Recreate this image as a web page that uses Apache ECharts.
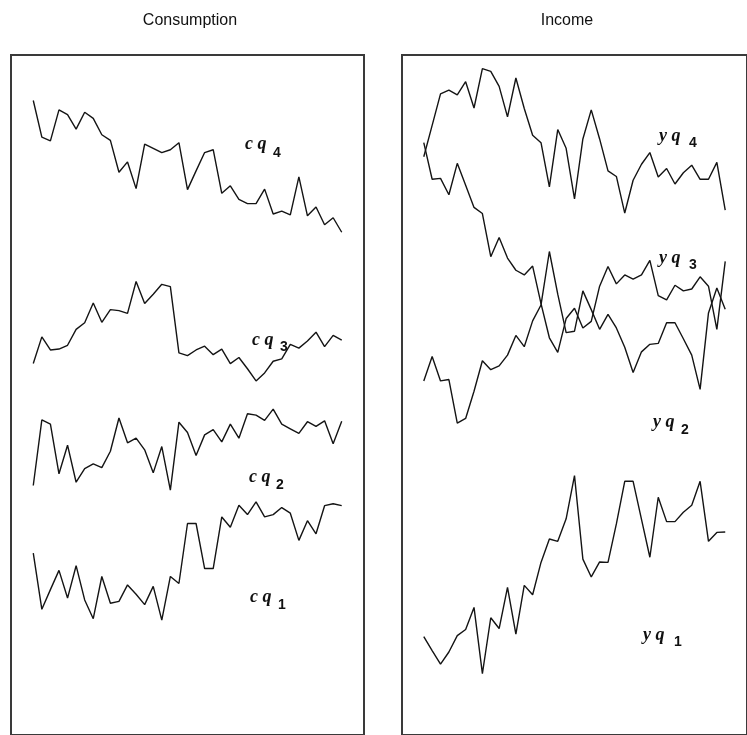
<!DOCTYPE html>
<html>
<head>
<meta charset="utf-8">
<script src="https://cdn.jsdelivr.net/npm/echarts@6/dist/echarts.min.js"></script>
<style>
  html, body { margin: 0; padding: 0; background: #ffffff; }
  #chart { width: 747px; height: 735px; }
</style>
</head>
<body>
<div id="chart"></div>
<script>
// Quarter index shared by every series
const quarters = [1, 2, 3, 4, 5, 6, 7, 8, 9, 10, 11, 12, 13, 14, 15, 16, 17, 18, 19,
  20, 21, 22, 23, 24, 25, 26, 27, 28, 29, 30, 31, 32, 33, 34, 35, 36, 37];

// Consumption, one series per quarter (vertically offset for display)
const cq4 = [135.3, 127.5, 126.7, 133.3, 132.3, 129.2, 132.8, 131.5, 128.0, 126.8, 120.0, 122.2, 116.5,
  126.0, 125.1, 124.2, 124.8, 126.3, 116.3, 120.3, 124.2, 124.8, 115.5, 117.1, 114.2, 113.3, 113.3,
  116.4, 111.1, 111.7, 110.9, 119.0, 110.7, 112.6, 108.8, 110.3, 107.2];
const cq3 = [79.2, 84.9, 82.1, 82.3, 83.1, 86.5, 87.9, 92.1, 88.0, 90.7, 90.5, 89.9, 96.7,
  92.0, 94.0, 96.1, 95.6, 81.5, 80.9, 82.1, 82.9, 81.1, 82.3, 79.2, 80.5, 78.1, 75.5,
  77.2, 79.7, 80.2, 83.3, 82.5, 84.0, 85.9, 82.8, 85.2, 84.2];
const cq2 = [53.2, 67.2, 66.3, 55.7, 61.8, 53.9, 56.8, 57.8, 57.0, 60.5, 67.6, 62.3, 63.3,
  60.8, 55.9, 61.5, 52.2, 66.7, 64.5, 59.6, 64.0, 65.1, 62.5, 66.3, 63.3, 68.5, 68.2,
  67.1, 69.5, 66.3, 65.3, 64.3, 66.8, 65.8, 67.0, 62.1, 66.9];
const cq1 = [38.8, 26.8, 31.0, 35.1, 29.2, 36.1, 28.8, 24.8, 33.8, 28.1, 28.5, 32.0, 30.0,
  27.8, 31.7, 24.5, 33.8, 32.3, 45.1, 45.1, 35.5, 35.5, 46.5, 44.3, 49.0, 47.0, 49.7,
  46.5, 47.0, 48.5, 47.3, 41.5, 45.7, 42.9, 48.9, 49.3, 48.9];

// Income, one series per quarter (vertically offset for display)
const yq4 = [123.3, 130.0, 136.7, 137.5, 136.5, 139.3, 133.7, 142.1, 141.5, 138.3, 131.8, 140.1, 133.6,
  127.9, 126.3, 116.9, 129.1, 125.1, 114.3, 127.1, 133.3, 127.1, 120.3, 119.1, 111.3, 118.3, 121.7,
  124.2, 119.0, 120.8, 117.5, 119.9, 121.5, 118.5, 118.5, 122.1, 111.9];
const yq3 = [126.3, 118.5, 118.7, 115.2, 121.9, 117.2, 112.5, 111.2, 102.0, 106.1, 101.7, 99.1, 98.1,
  100.0, 92.0, 84.7, 81.6, 88.8, 91.0, 86.8, 88.2, 95.7, 99.9, 96.2, 98.1, 97.2, 98.1,
  101.2, 93.7, 92.8, 95.9, 94.7, 95.1, 97.7, 95.7, 86.5, 101.0];
const yq2 = [75.5, 80.7, 75.5, 75.8, 66.5, 67.5, 73.3, 79.8, 77.9, 78.7, 81.0, 85.2, 82.8,
  88.3, 91.7, 103.1, 94.0, 85.8, 86.1, 94.7, 90.7, 86.5, 89.7, 86.8, 82.7, 77.3, 81.7,
  83.3, 83.5, 87.9, 87.9, 84.5, 81.0, 73.7, 90.0, 95.3, 90.8];
const yq1 = [21.0, 18.0, 15.1, 17.7, 21.2, 22.5, 27.2, 13.1, 25.0, 22.7, 31.5, 21.5, 31.9,
  29.9, 36.8, 41.8, 41.3, 46.1, 55.3, 37.5, 33.7, 36.9, 36.8, 45.0, 54.1, 54.1, 46.0,
  37.9, 50.7, 45.5, 45.5, 47.5, 49.0, 54.1, 41.3, 43.2, 43.3];

const panelTitles = ['Consumption', 'Income'];

const toPairs = vals => vals.map((v, i) => [quarters[i], v]);

const lineStyle = { color: '#141414', width: 1.4 };
function makeSeries(name, vals, panel) {
  return {
    name: name,
    type: 'line',
    xAxisIndex: panel,
    yAxisIndex: panel,
    data: toPairs(vals),
    showSymbol: false,
    symbol: 'none',
    lineStyle: lineStyle,
    silent: true
  };
}

const gridBase = { top: 55, width: 353, height: 725, show: true,
  borderColor: '#3a3a3a', borderWidth: 2, backgroundColor: 'transparent' };
const xBase = { type: 'value', min: -1.6, max: 39.6, show: false };
const yBase = { type: 'value', min: 0, max: 145, show: false };

// Series labels: italic letters with a bold numeric subscript
const letterFont = 'italic bold 18px "Liberation Serif", "DejaVu Serif", serif';
const subFont = 'bold 14px "Liberation Sans", Arial, sans-serif';
function tag(letters, digit, x, y, dx, dy) {
  return [
    { type: 'text', x: x, y: y, silent: true,
      style: { text: letters, font: letterFont, fill: '#111', verticalAlign: 'middle' } },
    { type: 'text', x: x + dx, y: y + dy, silent: true,
      style: { text: digit, font: subFont, fill: '#111', verticalAlign: 'middle' } }
  ];
}

const titleFont = '16px "Liberation Sans", Arial, sans-serif';
const graphics = [
  { type: 'text', x: 190, y: 21, silent: true,
    style: { text: panelTitles[0], font: titleFont, fill: '#111', align: 'center', verticalAlign: 'middle' } },
  { type: 'text', x: 567, y: 21, silent: true,
    style: { text: panelTitles[1], font: titleFont, fill: '#111', align: 'center', verticalAlign: 'middle' } }
].concat(
  tag('c q', '4', 245, 144, 28, 9),
  tag('c q', '3', 252, 340, 28, 7),
  tag('c q', '2', 249, 477, 27, 8),
  tag('c q', '1', 250, 597, 28, 8),
  tag('y q', '4', 659, 136, 30, 7),
  tag('y q', '3', 659, 258, 30, 7),
  tag('y q', '2', 653, 422, 28, 8),
  tag('y q', '1', 643, 635, 31, 7)
);

const chart = echarts.init(document.getElementById('chart'), null, { renderer: 'canvas' });
chart.setOption({
  animation: false,
  backgroundColor: '#ffffff',
  grid: [
    Object.assign({ left: 11 }, gridBase),
    Object.assign({ left: 402 }, gridBase)
  ],
  xAxis: [Object.assign({ gridIndex: 0 }, xBase), Object.assign({ gridIndex: 1 }, xBase)],
  yAxis: [Object.assign({ gridIndex: 0 }, yBase), Object.assign({ gridIndex: 1 }, yBase)],
  series: [
    makeSeries('cq4', cq4, 0),
    makeSeries('cq3', cq3, 0),
    makeSeries('cq2', cq2, 0),
    makeSeries('cq1', cq1, 0),
    makeSeries('yq4', yq4, 1),
    makeSeries('yq3', yq3, 1),
    makeSeries('yq2', yq2, 1),
    makeSeries('yq1', yq1, 1)
  ],
  graphic: graphics
});
</script>
</body>
</html>
